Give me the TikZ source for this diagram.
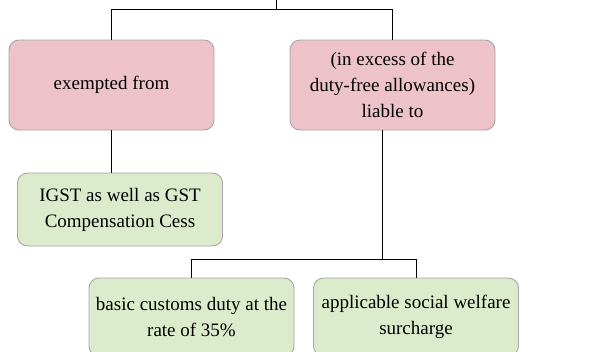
\documentclass[tikz,border=0pt]{standalone}
\usepackage{fontspec}
\setmainfont{Liberation Serif}

\definecolor{boxpink}{HTML}{EDC3C9}
\definecolor{boxgreen}{HTML}{DCEBCB}
\definecolor{boxline}{HTML}{A5A5A5}

\begin{document}
\begin{tikzpicture}[%
      x=1pt, y=-1pt, %
      box/.style={
        draw=boxline,
        line width=0.9pt,
        rounded corners=10pt,
        align=center,
        inner sep=0pt,
        font=\fontsize{19}{26}\selectfont
      },
      pinkbox/.style={box, fill=boxpink, minimum width=205pt, minimum height=90pt},
      greenbox/.style={box, fill=boxgreen, minimum width=205pt, minimum height=73pt},
      link/.style={draw=black, line width=0.8pt}
      ]
      \useasboundingbox (0,0) rectangle (612,351);

      % Top level
      \coordinate (root) at (276,-5);
      \coordinate (split) at (276,9);

      \node[pinkbox] (exempt) at (111.5,85) {exempted from};
      \node[pinkbox] (liable) at (392.5,85) {(in excess of the\\duty-free allowances)\\liable to};

      % Second level
      \node[greenbox] (igst) at (120,209.5) {IGST as well as GST\\Compensation Cess};
      \node[greenbox, minimum height=78pt] (bcd) at (191.5,317) {basic customs duty at the\\rate of 35\%};
      \node[greenbox, minimum height=78pt] (sws) at (416,317) {applicable social welfare\\surcharge};

      % Connectors
      \draw[link] (root) -- (split);
      \draw[link] (split) -| (exempt.north);
      \draw[link] (split) -| (liable.north);
      \draw[link] (exempt.south) -- (igst.north -| exempt.south);

      \coordinate (fork) at (382,259);
      \draw[link] (liable.south -| fork) -- (fork);
      \draw[link] (fork) -| (bcd.north);
      \draw[link] (fork) -| (sws.north);

    \end{tikzpicture}
\end{document}
